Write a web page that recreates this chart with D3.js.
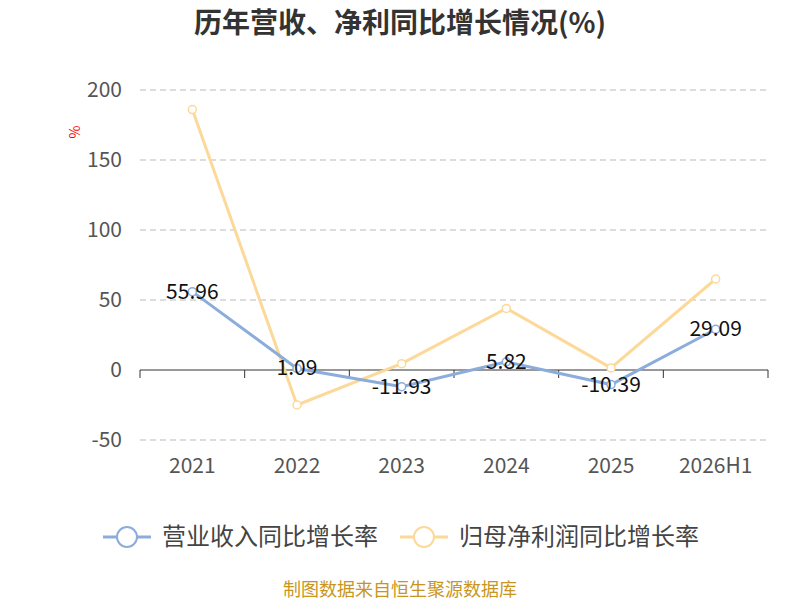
<!DOCTYPE html>
<html><head><meta charset="utf-8">
<script src="https://cdn.jsdelivr.net/npm/d3@7"></script>
<style>body{margin:0;background:#fff;font-family:"Noto Sans CJK SC","Noto Sans",sans-serif}</style>
</head><body>
<script>
const categories = ["2021", "2022", "2023", "2024", "2025", "2026H1"];
const revenueGrowth = [55.96, 1.09, -11.93, 5.82, -10.39, 29.09];
const profitGrowth = [186, -25, 4.5, 44, 1.5, 65];
const yTicks = [-50, 0, 50, 100, 150, 200];

const width = 800, height = 600;
const svg = d3.select("body").append("svg").attr("width", width).attr("height", height);

const x = d3.scaleBand().domain(categories).range([140, 768]);
const y = d3.scaleLinear().domain([-50, 200]).range([440, 90]);
const cx = d => x(d) + x.bandwidth() / 2;

svg.append("text").attr("x", 400).attr("y", 33).attr("text-anchor", "middle")
  .attr("font-size", 28).attr("font-weight", "bold").attr("fill", "#333")
  .text("历年营收、净利同比增长情况(%)");

// grid
svg.selectAll(".grid").data(yTicks.filter(t => t !== 0)).enter().append("line")
  .attr("x1", 140).attr("x2", 768).attr("y1", d => y(d)).attr("y2", d => y(d))
  .attr("stroke", "#bbb").attr("stroke-dasharray", "6,4");
svg.selectAll(".yl").data(yTicks).enter().append("text")
  .attr("x", 122).attr("y", d => y(d) + 7).attr("text-anchor", "end")
  .attr("font-size", 21).attr("fill", "#555").text(d => d);
svg.append("text").attr("transform", "translate(80,132) rotate(-90)")
  .attr("text-anchor", "middle").attr("font-size", 14).attr("fill", "red").text("%");

// zero axis
svg.append("line").attr("x1", 140).attr("x2", 768).attr("y1", y(0)).attr("y2", y(0)).attr("stroke", "#333");
const bounds = categories.map(c => x(c)).concat([768]);
svg.selectAll(".tick").data(bounds).enter().append("line")
  .attr("x1", d => d).attr("x2", d => d).attr("y1", y(0)).attr("y2", y(0) + 8).attr("stroke", "#333");
svg.selectAll(".xl").data(categories).enter().append("text")
  .attr("x", cx).attr("y", 473).attr("text-anchor", "middle")
  .attr("font-size", 21).attr("fill", "#555").text(d => d);

const line = d3.line().x((d, i) => cx(categories[i])).y(d => y(d));
function series(vals, color) {
  svg.append("path").datum(vals).attr("d", line).attr("fill", "none")
    .attr("stroke", color).attr("stroke-width", 3);
  svg.selectAll(null).data(vals).enter().append("circle")
    .attr("cx", (d, i) => cx(categories[i])).attr("cy", d => y(d)).attr("r", 4)
    .attr("fill", "#fff").attr("stroke", color).attr("stroke-width", 1.5);
}
series(profitGrowth, "#fcd999");
series(revenueGrowth, "#8cacdb");
svg.selectAll(".lbl").data(revenueGrowth).enter().append("text")
  .attr("x", (d, i) => cx(categories[i])).attr("y", d => y(d) + 7)
  .attr("text-anchor", "middle").attr("font-size", 21).attr("fill", "#111")
  .text(d => d.toFixed(2));

// legend
const legend = [["营业收入同比增长率", "#8cacdb", 103], ["归母净利润同比增长率", "#fcd999", 400]];
legend.forEach(([t, c, lx]) => {
  svg.append("line").attr("x1", lx).attr("x2", lx + 48).attr("y1", 537).attr("y2", 537).attr("stroke", c).attr("stroke-width", 3);
  svg.append("circle").attr("cx", lx + 24).attr("cy", 537).attr("r", 10).attr("fill", "#fff").attr("stroke", c).attr("stroke-width", 2);
  svg.append("text").attr("x", lx + 59).attr("y", 545).attr("font-size", 24).attr("fill", "#444").text(t);
});
svg.append("text").attr("x", 400).attr("y", 596).attr("text-anchor", "middle")
  .attr("font-size", 18).attr("fill", "#c8961e").text("制图数据来自恒生聚源数据库");
</script>
</body></html>
